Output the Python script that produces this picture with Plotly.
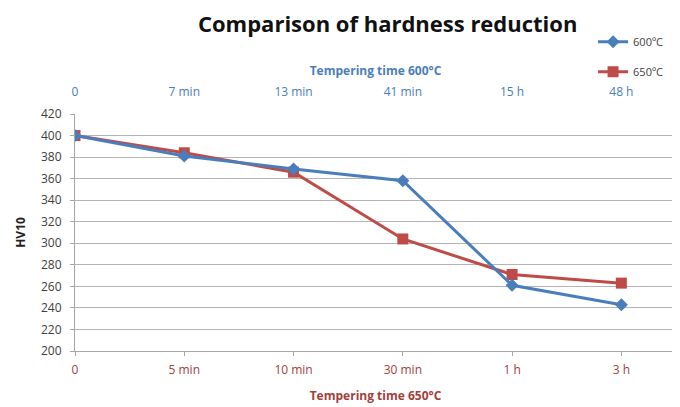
import plotly.graph_objects as go

categories_650 = ["0", "5 min", "10 min", "30 min", "1 h", "3 h"]
categories_600 = ["0", "7 min", "13 min", "41 min", "15 h", "48 h"]
hv_600 = [400, 381, 369, 358, 261, 243]
hv_650 = [400, 384, 366, 304, 271, 263]
y_ticks = list(range(200, 421, 20))

BLUE = "#4A7EBB"
RED = "#BE4B48"
FONT = "Open Sans"
pos = list(range(len(categories_650)))

fig = go.Figure()
fig.add_trace(go.Scatter(
    x=pos, y=hv_600, name="600ºC", xaxis="x2", yaxis="y",
    mode="lines+markers", legendgroup="a",
    line=dict(color=BLUE, width=3),
    marker=dict(symbol="diamond", size=10, color=BLUE),
))
fig.add_trace(go.Scatter(
    x=pos, y=hv_650, name="650ºC", xaxis="x", yaxis="y",
    mode="lines+markers", legendgroup="b",
    line=dict(color=RED, width=3),
    marker=dict(symbol="square", size=11, color=RED),
))

fig.update_layout(
    width=672, height=399,
    margin=dict(l=67, r=4, t=106, b=56),
    paper_bgcolor="white", plot_bgcolor="white",
    font=dict(family=FONT, color="#404040"),
    title=dict(text="<b>Comparison of hardness reduction</b>",
               x=0.565, xanchor="center", y=0.960, yanchor="middle",
               font=dict(size=22, color="#111111", family=FONT)),
    showlegend=True,
    legend=dict(x=0.862, y=1.366, xanchor="left", yanchor="top",
                font=dict(size=11, color="#404040"),
                tracegroupgap=11, bgcolor="rgba(0,0,0,0)",
                itemwidth=30),
    xaxis=dict(
        range=[0, 5.5], tickvals=pos, ticktext=categories_650,
        side="bottom", showgrid=False, zeroline=False, automargin=False,
        showline=True, linecolor="#A6A6A6", linewidth=1,
        ticks="outside", ticklen=4, tickcolor="#A6A6A6",
        ticklabelstandoff=4,
        tickfont=dict(size=12, color="#A0413C"),
        title=dict(text="<b>Tempering time 650°C</b>",
                   font=dict(size=12, color="#A0413C"), standoff=14),
    ),
    xaxis2=dict(
        range=[0, 5.5], tickvals=pos, ticktext=categories_600,
        overlaying="x", side="top", anchor="y", automargin=False,
        showgrid=False, zeroline=False, showline=False,
        ticks="", ticklabelstandoff=15,
        tickfont=dict(size=12, color=BLUE),
        title=dict(text="<b>Tempering time 600°C</b>",
                   font=dict(size=12, color=BLUE), standoff=4),
    ),
    yaxis=dict(
        range=[200, 420], tickvals=y_ticks, automargin=False,
        showgrid=True, gridcolor="#B4B4B4", gridwidth=1,
        zeroline=False, showline=True, linecolor="#A6A6A6",
        ticks="outside", ticklen=4, tickcolor="#A6A6A6",
        ticklabelstandoff=6,
        tickfont=dict(size=12, color="#404040"),
        title=dict(text="<b>HV10</b>", font=dict(size=12, color="#222222"),
                   standoff=12),
    ),
)

fig.write_html("out.html")
